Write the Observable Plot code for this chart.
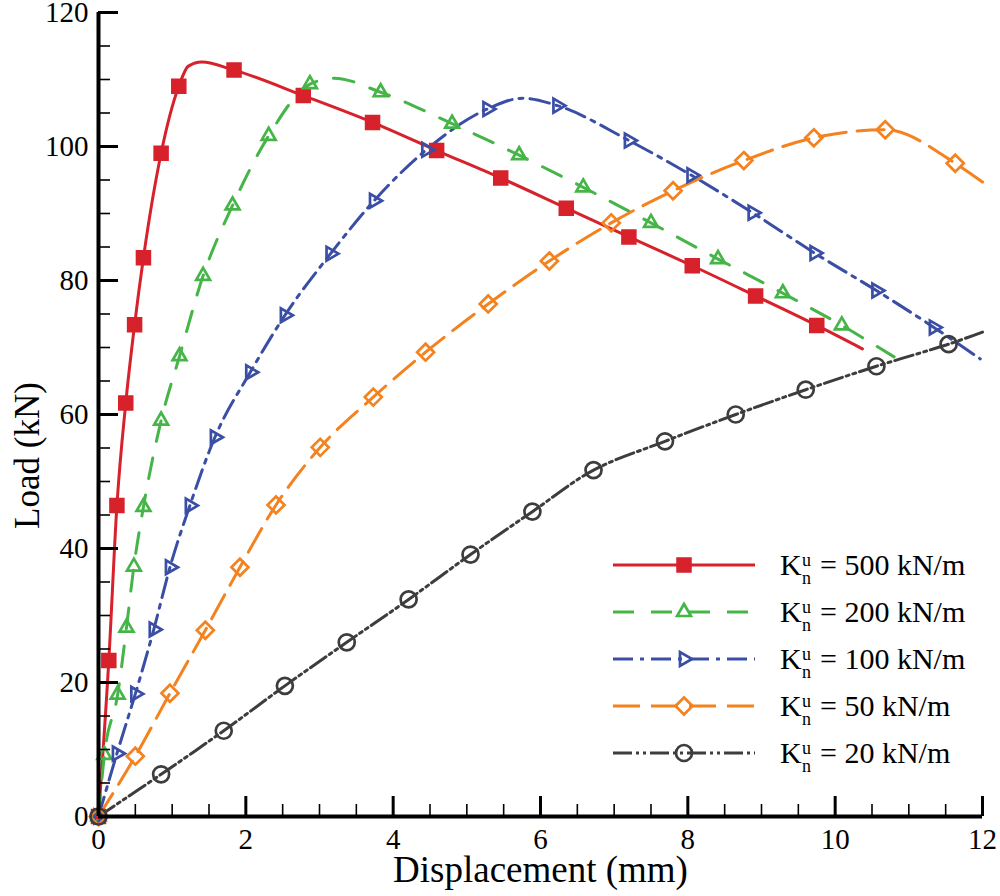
<!DOCTYPE html>
<html><head><meta charset="utf-8">
<script src="https://cdn.jsdelivr.net/npm/d3@7"></script>
<script src="https://cdn.jsdelivr.net/npm/@observablehq/plot@0.6"></script>
<style>html,body{margin:0;padding:0;background:#fff;} #chart{width:1000px;height:896px;}</style>
</head><body><div id="chart"></div>
<script>
// ---------------- data ----------------
const stiffness = [500, 200, 100, 50, 20];   // K_n^u in kN/m

const k500X = [0, 0.14, 0.25, 0.37, 0.49, 0.61, 0.85, 1.09, 1.22, 1.40, 1.84, 2.78, 3.72, 4.59, 5.46, 6.35, 7.20, 8.06, 8.92, 9.75, 10.37];
const k500Y = [0, 23.3, 46.4, 61.7, 73.4, 83.4, 99.0, 109.0, 112.0, 112.6, 111.4, 107.6, 103.6, 99.4, 95.3, 90.8, 86.5, 82.2, 77.7, 73.3, 69.8];
const k500M = [1, 1, 1, 1, 1, 1, 1, 1, 0, 0, 1, 1, 1, 1, 1, 1, 1, 1, 1, 1, 0];

const k200X = [0, 0.08, 0.26, 0.38, 0.48, 0.61, 0.85, 1.10, 1.42, 1.82, 2.31, 2.87, 3.20, 3.83, 4.80, 5.71, 6.58, 7.50, 8.41, 9.29, 10.09, 10.80];
const k200Y = [0, 9.2, 18.2, 28.2, 37.3, 46.2, 59.1, 68.7, 80.7, 91.2, 101.6, 109.3, 110.2, 108.1, 103.4, 98.7, 93.9, 88.6, 83.2, 78.1, 73.3, 68.6];
const k200M = [1, 1, 1, 1, 1, 1, 1, 1, 1, 1, 1, 1, 0, 1, 1, 1, 1, 1, 1, 1, 1, 0];

const k100X = [0, 0.25, 0.50, 0.75, 0.97, 1.24, 1.58, 2.06, 2.53, 3.15, 3.74, 4.45, 5.28, 5.76, 6.23, 7.20, 8.05, 8.88, 9.72, 10.56, 11.34, 11.97];
const k100Y = [0, 9.4, 18.3, 27.9, 37.2, 46.4, 56.6, 66.3, 74.8, 84.0, 91.9, 99.5, 105.6, 107.2, 106.1, 100.9, 95.7, 90.1, 84.1, 78.5, 73.0, 68.3];
const k100M = [1, 1, 1, 1, 1, 1, 1, 1, 1, 1, 1, 1, 1, 0, 1, 1, 1, 1, 1, 1, 1, 0];

const k50X = [0, 0.50, 0.97, 1.45, 1.92, 2.41, 3.01, 3.73, 4.44, 5.29, 6.12, 6.96, 7.80, 8.76, 9.71, 10.68, 11.63, 12.0];
const k50Y = [0, 9.0, 18.4, 27.8, 37.2, 46.5, 55.1, 62.6, 69.3, 76.5, 82.9, 88.6, 93.4, 97.9, 101.3, 102.5, 97.5, 94.7];
const k50M = [1, 1, 1, 1, 1, 1, 1, 1, 1, 1, 1, 1, 1, 1, 1, 1, 1, 0];

const k20X = [0, 0.85, 1.70, 2.53, 3.37, 4.21, 5.05, 5.89, 6.72, 7.69, 8.65, 9.60, 10.56, 11.54, 12.0];
const k20Y = [0, 6.3, 12.8, 19.5, 26.0, 32.4, 39.1, 45.5, 51.7, 56.0, 60.0, 63.7, 67.2, 70.5, 72.3];
const k20M = [1, 1, 1, 1, 1, 1, 1, 1, 1, 1, 1, 1, 1, 1, 0];

const xMajor = [0, 2, 4, 6, 8, 10, 12];
const xMinor = [0.5, 1, 1.5, 2.5, 3, 3.5, 4.5, 5, 5.5, 6.5, 7, 7.5, 8.5, 9, 9.5, 10.5, 11, 11.5];
const yMajor = [0, 20, 40, 60, 80, 100, 120];
const yMinor = [5, 10, 15, 25, 30, 35, 45, 50, 55, 65, 70, 75, 85, 90, 95, 105, 110, 115];

const xLabel = "Displacement (mm)";
const yLabel = "Load (kN)";

// ---------------- styles ----------------
const FONT = "'Liberation Serif', 'Times New Roman', 'DejaVu Serif', serif";
const colors = ["#d7212b", "#46b548", "#3a4ea5", "#f4821f", "#3d3d3d"];
const dashes = ["none", "21,17", "20,7,4,7", "27,11", "19,4,3,4,3,4"];
const curves = ["monotone-x", "monotone-x", "monotone-x", "monotone-x", "catmull-rom"];
const shapes = ["square", "triangleUp", "triangleRight", "diamond", "circle"];
const radii = [6.4, 8, 8, 8.5, 8];
const filled = [true, false, false, false, false];

function drawShape(ctx, shape, R) {
  const s = Math.sqrt(3) / 2;
  if (shape === "square") {
    ctx.moveTo(-R, -R); ctx.lineTo(R, -R); ctx.lineTo(R, R); ctx.lineTo(-R, R); ctx.closePath();
  } else if (shape === "triangleUp") {
    ctx.moveTo(0, -R); ctx.lineTo(R * s, R / 2); ctx.lineTo(-R * s, R / 2); ctx.closePath();
  } else if (shape === "triangleRight") {
    ctx.moveTo(R, 0); ctx.lineTo(-R / 2, R * s); ctx.lineTo(-R / 2, -R * s); ctx.closePath();
  } else if (shape === "diamond") {
    ctx.moveTo(0, -R); ctx.lineTo(R, 0); ctx.lineTo(0, R); ctx.lineTo(-R, 0); ctx.closePath();
  } else {
    ctx.moveTo(R, 0); ctx.arc(0, 0, R, 0, 2 * Math.PI); ctx.closePath();
  }
}
const symbolOf = shape => ({draw(ctx, size) { drawShape(ctx, shape, Math.sqrt(size / Math.PI)); }});

const rawSeries = [[k500X, k500Y, k500M], [k200X, k200Y, k200M], [k100X, k100Y, k100M], [k50X, k50Y, k50M], [k20X, k20Y, k20M]];
const tables = rawSeries.map(([xs, ys, ms]) => xs.map((x, i) => ({x, y: ys[i], m: ms[i]})));

const W = 1000, H = 896, mL = 98, mR = 18, mT = 12, mB = 80;
const frameW = W - mL - mR, frameH = H - mT - mB;

const marks = [];
tables.forEach((t, i) => {
  marks.push(Plot.line(t, {x: "x", y: "y", stroke: colors[i], strokeWidth: 3,
    strokeDasharray: dashes[i], curve: curves[i]}));
});
tables.forEach((t, i) => {
  marks.push(Plot.dot(t.filter(d => d.m), {x: "x", y: "y", symbol: symbolOf(shapes[i]), r: radii[i],
    stroke: colors[i], strokeWidth: 2.7, fill: filled[i] ? colors[i] : "none"}));
});

const txt = {fill: "black", fontFamily: FONT};
marks.push(
  Plot.ruleY([0], {stroke: "black", strokeWidth: 4}),
  Plot.ruleX([0], {stroke: "black", strokeWidth: 4}),
  Plot.tickX(xMajor, {x: d => d, stroke: "black", strokeWidth: 3, insetTop: frameH - 20}),
  Plot.tickX(xMinor, {x: d => d, stroke: "black", strokeWidth: 1.6, insetTop: frameH - 12}),
  Plot.tickY(yMajor, {y: d => d, stroke: "black", strokeWidth: 3, insetRight: frameW - 20}),
  Plot.tickY(yMinor, {y: d => d, stroke: "black", strokeWidth: 1.6, insetRight: frameW - 12}),
  Plot.text(xMajor, {...txt, x: d => d, text: d => String(d), frameAnchor: "bottom", textAnchor: "middle", lineAnchor: "top", dy: 12, fontSize: 29}),
  Plot.text(yMajor, {...txt, y: d => d, text: d => String(d), frameAnchor: "left", textAnchor: "end", lineAnchor: "middle", dx: -10, fontSize: 29}),
  Plot.text([xLabel], {...txt, text: d => d, frameAnchor: "bottom", textAnchor: "middle", lineAnchor: "middle", dy: 54, fontSize: 37}),
  Plot.text([yLabel], {...txt, text: d => d, frameAnchor: "left", textAnchor: "middle", rotate: -90, lineAnchor: "middle", dx: -71, dy: 41, fontSize: 35})
);

const chart = Plot.plot({
  width: W, height: H,
  marginLeft: mL, marginRight: mR, marginTop: mT, marginBottom: mB,
  x: {domain: [0, 12], axis: null},
  y: {domain: [0, 120], axis: null},
  style: {fontFamily: FONT, background: "white", overflow: "visible"},
  marks
});
document.getElementById("chart").appendChild(chart);

// ---------------- legend (inside the frame, lower right) ----------------
const svg = d3.select(chart);
const lg = svg.append("g").attr("font-family", FONT).attr("fill", "black").attr("text-anchor", "start");
const lx0 = 613, lx1 = 755, lmx = 684, ltx = 780, ly0 = 565, lstep = 47;
stiffness.forEach((k, i) => {
  const yy = ly0 + i * lstep;
  lg.append("line").attr("x1", lx0).attr("x2", lx1).attr("y1", yy).attr("y2", yy)
    .attr("stroke", colors[i]).attr("stroke-width", 3).attr("stroke-dasharray", dashes[i]);
  const p = d3.path(); drawShape(p, shapes[i], radii[i]);
  lg.append("path").attr("d", p.toString()).attr("transform", `translate(${lmx},${yy})`)
    .attr("stroke", colors[i]).attr("stroke-width", 2.7).attr("fill", filled[i] ? colors[i] : "none");
  lg.append("text").attr("text-anchor", "start").attr("x", ltx).attr("y", yy + 10).attr("font-size", 30).text("K");
  lg.append("text").attr("text-anchor", "start").attr("x", ltx + 22).attr("y", yy + 1).attr("font-size", 18).text("u");
  lg.append("text").attr("text-anchor", "start").attr("x", ltx + 22).attr("y", yy + 19).attr("font-size", 18).text("n");
  lg.append("text").attr("text-anchor", "start").attr("x", ltx + 40).attr("y", yy + 10).attr("font-size", 30).text(`= ${k} kN/m`);
});
</script>
</body></html>
